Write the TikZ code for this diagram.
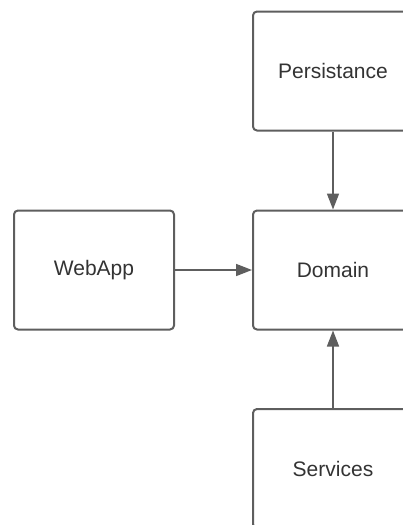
\documentclass[tikz,border=0pt]{standalone}
\usepackage{fontspec}
\setmainfont{Liberation Sans}
\usetikzlibrary{arrows.meta}
\definecolor{edge}{HTML}{5E5E5E}
\definecolor{label}{HTML}{333333}
\begin{document}
\begin{tikzpicture}[x=1pt,y=-1pt,
  layer/.style={draw=edge, line width=2pt, rounded corners=4pt,
    minimum width=160pt, minimum height=119pt, inner sep=0pt,
    text=label, font=\fontsize{21}{24}\selectfont},
  dep/.style={draw=edge, line width=1.6pt,
    -{Triangle[length=16pt,width=12pt]}}]
  \useasboundingbox (0,0) rectangle (403,525);
  \node[layer] (persist)  at (333,71)   {Persistance};
  \node[layer] (domain)   at (333,270)  {Domain};
  \node[layer] (webapp)   at (94,270)   {WebApp};
  \node[layer] (services) at (333,468.5) {Services};
  \draw[dep] (persist) -- (domain);
  \draw[dep] (webapp) -- (domain);
  \draw[dep] (services) -- (domain);
\end{tikzpicture}
\end{document}
